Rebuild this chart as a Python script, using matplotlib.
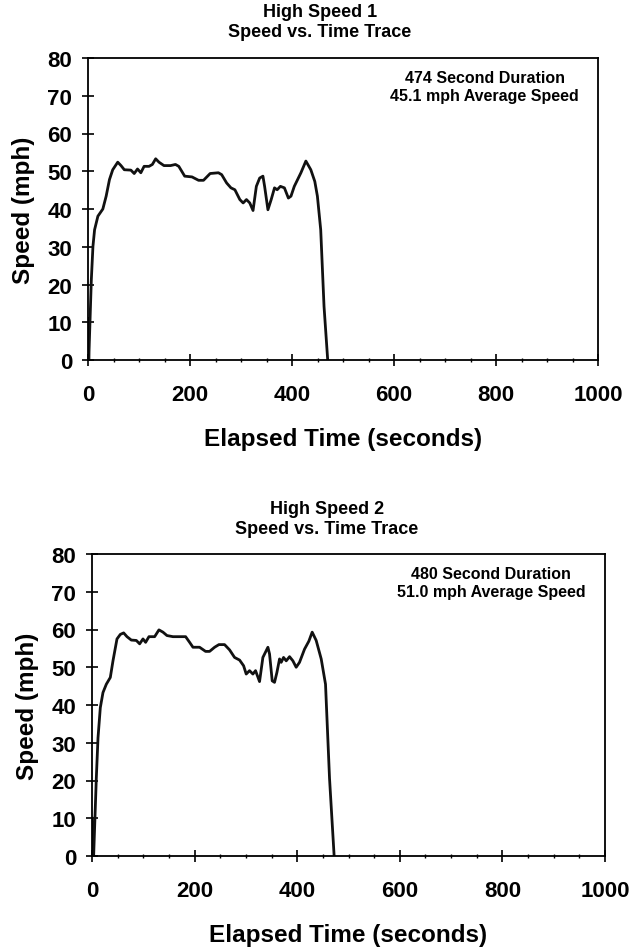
import matplotlib
matplotlib.use("Agg")
import matplotlib.pyplot as plt
from matplotlib.ticker import MultipleLocator

plt.rcParams['font.family'] = ['Liberation Sans', 'DejaVu Sans']
plt.rcParams['font.weight'] = 'bold'
plt.rcParams['axes.labelweight'] = 'bold'

# === Data ===
t1 = [0, 1.5, 6.5, 9.7, 12.9, 19.4, 29.1, 35.6, 42.1, 48.5, 58.3, 64.7, 71.2, 84.1, 90.6,
      97.1, 103.6, 110, 119.7, 126.2, 132.7, 139.2, 148.9, 161.8, 171.5, 178, 189.6, 203.9,
      216.8, 226.5, 239.5, 255.7, 262.1, 271.8, 280.3, 288, 297.7, 304.2, 310.7, 317.2,
      323.6, 330.1, 336.6, 343, 346.3, 352.8, 359.2, 365.7, 370.9, 377.3, 385.1, 392.9,
      398, 404.5, 417.5, 427.2, 436.9, 444.7, 449.8, 456.3, 462.8, 470]
v1 = [11, 0, 21.2, 30.1, 34.5, 38.1, 40.0, 43.4, 47.8, 50.4, 52.4, 51.5, 50.4, 50.3, 49.4,
      50.6, 49.6, 51.3, 51.3, 51.8, 53.3, 52.4, 51.5, 51.5, 51.8, 51.3, 48.7, 48.5, 47.6,
      47.6, 49.4, 49.6, 49.1, 46.9, 45.6, 45.1, 42.5, 41.6, 42.5, 41.6, 39.6, 46.0, 48.2,
      48.7, 46.0, 39.8, 42.5, 45.6, 45.1, 46.0, 45.6, 42.9, 43.4, 46.0, 49.6, 52.7, 50.4,
      47.3, 43.4, 34.5, 14.2, 0]

t2 = [0, 1.5, 3.2, 8.4, 11.7, 16.2, 21.4, 27.9, 35.7, 40.9, 48.7, 55.2, 61.7, 68.2, 76.6,
      86.4, 92.9, 99.4, 104.5, 111, 122.1, 130.5, 138.3, 146.1, 157.8, 170.8, 182.5, 190.3,
      196.8, 209.7, 221.4, 229.2, 239, 247.4, 258.4, 268.2, 277.9, 287.7, 295.5, 300.6,
      307.1, 313.6, 318.8, 326.6, 333.1, 342.9, 346.1, 351.3, 355.8, 360.4, 365.6, 368.8,
      373.4, 378.6, 385.1, 391.6, 398, 404.5, 414.3, 422.7, 429.2, 437, 446.8, 455.2, 463, 472]
v2 = [10, 0, 0, 20.6, 31.3, 39.3, 43.3, 45.5, 47.3, 51.7, 57.5, 58.7, 59.1, 58.1, 57.2,
      57.1, 56.2, 57.5, 56.6, 58.1, 58.1, 59.9, 59.3, 58.4, 58.1, 58.1, 58.1, 56.6, 55.3,
      55.3, 54.2, 54.2, 55.3, 56.0, 56.0, 54.6, 52.6, 51.9, 50.4, 48.2, 49.1, 48.2, 49.1,
      46.2, 52.6, 55.3, 53.5, 46.4, 46.0, 48.6, 52.2, 51.3, 52.6, 51.7, 52.8, 51.7, 50.0,
      51.3, 54.8, 56.9, 59.3, 57.1, 52.2, 45.5, 20.6, 0]

titles = ["High Speed 1\nSpeed vs. Time Trace", "High Speed 2\nSpeed vs. Time Trace"]
notes = ["474 Second Duration\n45.1 mph Average Speed",
         "480 Second Duration\n51.0 mph Average Speed"]

W, H = 629, 953
fig = plt.figure(figsize=(W / 100, H / 100), dpi=100)


def px_axes(x0, x1, y0, y1):
    # pixel box (left, right, top, bottom) -> figure fraction axes
    return fig.add_axes([x0 / W, 1 - y1 / H, (x1 - x0) / W, (y1 - y0) / H])


def draw_panel(ax, t, v, title, note, title_x, title_y):
    ax.plot(t, v, color='#111111', lw=2.0, solid_joinstyle='round')
    ax.set_xlim(0, 1000)
    ax.set_ylim(0, 80)
    ax.xaxis.set_major_locator(MultipleLocator(200))
    ax.xaxis.set_minor_locator(MultipleLocator(50))
    ax.yaxis.set_major_locator(MultipleLocator(10))
    ax.tick_params(which='major', direction='inout', length=8.5, width=1.2,
                   labelsize=16, top=False, right=False)
    ax.tick_params(which='minor', direction='inout', length=3.5, width=1.0,
                   top=False, right=False)
    ax.tick_params(axis='x', pad=13)
    ax.tick_params(axis='y', pad=7)
    for sp in ax.spines.values():
        sp.set_linewidth(1.3)
    ax.set_xlabel("Elapsed Time (seconds)", fontsize=17.5, fontweight='bold', labelpad=16)
    ax.set_ylabel("Speed (mph)", fontsize=17.5, fontweight='bold', labelpad=9)
    ax.text(0.778, 0.96, note, transform=ax.transAxes, ha='center', va='top',
            fontsize=11.5, linespacing=1.25)
    fig.text(title_x / W, 1 - title_y / H, title, ha='center', va='top',
             fontsize=13, linespacing=1.2)


ax1 = px_axes(88, 598, 59, 361)
draw_panel(ax1, t1, v1, titles[0], notes[0], 320, 4)

ax2 = px_axes(92, 605, 555, 857)
draw_panel(ax2, t2, v2, titles[1], notes[1], 327, 501)

fig.savefig("out.png", dpi=100, facecolor='white')
